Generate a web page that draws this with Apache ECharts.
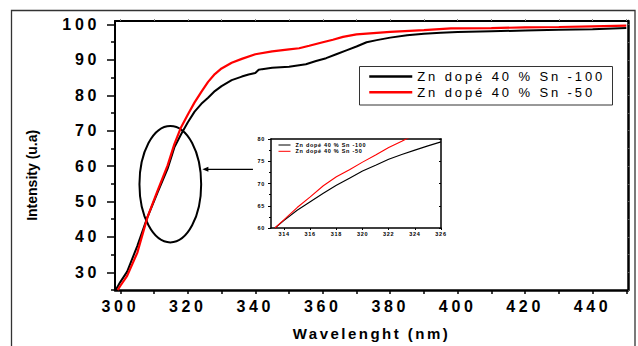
<!DOCTYPE html>
<html><head><meta charset="utf-8">
<script src="https://cdn.jsdelivr.net/npm/echarts@6/dist/echarts.min.js"></script>
<style>
html,body{margin:0;padding:0;background:#fff}
#c{width:638px;height:346px}
</style></head><body><div id="c"></div>
<script>
// ---- data ----
const nameBlack = 'Zn dopé 40 % Sn -100';
const nameRed = 'Zn dopé 40 % Sn -50';
const xBlack = [298.6,300,302,305,308,311,314,316,318,320,322,324,326,328,330,333,336,338,340,341,342,345,350,355,358,361,364,367,370,373,376,380,385,390,395,400,410,420,430,440,450];
const yBlack = [25,27.3,30.2,37.4,45.5,52.5,59.3,65.3,69.0,72.4,75.4,77.6,79.3,81.2,82.6,84.3,85.3,85.9,86.3,87.2,87.4,87.8,88.1,88.8,89.7,90.5,91.6,92.7,93.8,95.0,95.6,96.3,97.0,97.4,97.7,97.9,98.1,98.3,98.5,98.7,99.0];
const xRed = [299.2,300,302,305,308,311,314,316,318,320,322,324,326,328,330,333,336,340,345,350,353,356,360,363,366,370,375,380,390,398,410,420,430,440,450];
const yRed = [25,26.2,29.0,35.5,45.5,53.0,60.2,66.2,71.0,74.6,78.0,81.0,83.8,86.0,87.6,89.2,90.3,91.6,92.4,93.0,93.3,94.0,95.0,95.7,96.5,97.2,97.6,97.9,98.4,98.9,99.0,99.2,99.3,99.5,99.7];
const inX = [313.3,314,315,316,317,318,319,320,321,322,323,324,325,326];
const inBlack = [60,61.7,64.0,65.9,67.8,69.6,71.2,72.8,74.1,75.45,76.5,77.5,78.45,79.35];
const inRed = [60,61.9,64.6,67.0,69.5,71.5,73.1,74.8,76.4,78.1,79.5,81.0,82.3,83.5];
const xTickLabels = [300,320,340,360,380,400,420,440];
const xTicks = [300,310,320,330,340,350,360,370,380,390,400,410,420,430,440,450];
const yTickLabels = [30,40,50,60,70,80,90,100];
const yMinorTicks = [25,35,45,55,65,75,85,95];
const inXTicks = [314,316,318,320,322,324,326];
const yName = 'Intensity (u.a)';
const xName = 'Wavelenght (nm)';

const FONT = 'Liberation Sans';
const zip = (a, b) => a.map((v, i) => [v, b[i]]);

const chart = echarts.init(document.getElementById('c'), null, {renderer: 'svg'});
const noSplit = {show: false};
chart.setOption({
  animation: false,
  backgroundColor: '#fff',
  grid: [
    {left: 115, top: 21, width: 513, height: 269},
    {left: 271, top: 139, width: 170, height: 89}
  ],
  xAxis: [
    {gridIndex: 0, type: 'value', min: 298.4, max: 450.5, position: 'bottom',
     axisLine: {lineStyle: {color: '#000', width: 2.5}},
     axisTick: {customValues: xTicks, length: 4, lineStyle: {color: '#000', width: 1.5}},
     axisLabel: {customValues: xTickLabels, margin: 8, fontSize: 16, fontWeight: 'bold', color: '#000', fontFamily: FONT},
     splitLine: noSplit,
     name: xName, nameLocation: 'middle', nameGap: 36,
     nameTextStyle: {fontSize: 15, fontWeight: 'bold', color: '#000', fontFamily: FONT}},
    {gridIndex: 0, type: 'value', min: 298.4, max: 450.5, position: 'top',
     axisLine: {lineStyle: {color: '#000', width: 2}},
     axisTick: {customValues: xTicks, length: 2, lineStyle: {color: '#888', width: 1}},
     axisLabel: {show: false}, splitLine: noSplit},
    {gridIndex: 1, type: 'value', min: 313, max: 326, position: 'bottom',
     axisLine: {lineStyle: {color: '#000', width: 1.5}},
     axisTick: {customValues: inXTicks, length: 2, lineStyle: {color: '#000'}},
     axisLabel: {customValues: inXTicks, margin: 3, fontSize: 5.5, fontWeight: 'bold', color: '#000', fontFamily: FONT},
     splitLine: noSplit},
    {gridIndex: 1, type: 'value', min: 313, max: 326, position: 'top',
     axisLine: {lineStyle: {color: '#000', width: 1.5}},
     axisTick: {show: false}, axisLabel: {show: false}, splitLine: noSplit}
  ],
  yAxis: [
    {gridIndex: 0, type: 'value', min: 25, max: 101, position: 'left',
     axisLine: {show: true, lineStyle: {color: '#000', width: 2}},
     axisTick: {customValues: yTickLabels, length: 8, lineStyle: {color: '#000', width: 1.5}},
     axisLabel: {customValues: yTickLabels, margin: 15, fontSize: 16, fontWeight: 'bold', color: '#000', fontFamily: FONT},
     splitLine: noSplit},
    {gridIndex: 0, type: 'value', min: 25, max: 101, position: 'left',
     axisLine: {show: false},
     axisTick: {customValues: yMinorTicks, length: 4, lineStyle: {color: '#000', width: 1.5}},
     axisLabel: {show: false}, splitLine: noSplit},
    {gridIndex: 0, type: 'value', min: 25, max: 101, position: 'right',
     axisLine: {show: true, lineStyle: {color: '#000', width: 2.5}},
     axisTick: {customValues: yTickLabels.concat(yMinorTicks), length: 2, lineStyle: {color: '#555', width: 1}},
     axisLabel: {show: false}, splitLine: noSplit},
    {gridIndex: 1, type: 'value', min: 60, max: 80, interval: 5, position: 'left',
     axisLine: {show: true, lineStyle: {color: '#000', width: 1.5}},
     axisTick: {length: 3, lineStyle: {color: '#000'}},
     minorTick: {show: true, splitNumber: 2, length: 2, lineStyle: {color: '#000'}},
     axisLabel: {margin: 6, fontSize: 5.5, fontWeight: 'bold', color: '#000', fontFamily: FONT},
     splitLine: noSplit},
    {gridIndex: 1, type: 'value', min: 60, max: 80, interval: 5, position: 'right',
     axisLine: {show: true, lineStyle: {color: '#000', width: 1.5}},
     axisTick: {inside: true, length: 2, lineStyle: {color: '#000'}},
     axisLabel: {show: false}, splitLine: noSplit}
  ],
  legend: [
    {left: 368, top: 70, padding: 0, orient: 'vertical', data: [nameBlack, nameRed],
     itemWidth: 43, itemHeight: 14, itemGap: 2.7, selectedMode: false,
     lineStyle: {width: 2.5}, itemStyle: {opacity: 0},
     textStyle: {fontSize: 13, color: '#000', fontFamily: FONT}},
    {left: 278, top: 142, padding: 0, orient: 'vertical', data: [nameBlack, nameRed],
     itemWidth: 12, itemHeight: 5.5, itemGap: 0.3, selectedMode: false,
     lineStyle: {width: 1}, itemStyle: {opacity: 0},
     textStyle: {fontSize: 5.5, fontWeight: 'bold', color: '#000', fontFamily: FONT}}
  ],
  series: [
    {name: nameBlack, type: 'line', xAxisIndex: 0, yAxisIndex: 0, data: zip(xBlack, yBlack),
     symbol: 'none', color: '#000', lineStyle: {width: 2, color: '#000'}, clip: true},
    {name: nameRed, type: 'line', xAxisIndex: 0, yAxisIndex: 0, data: zip(xRed, yRed),
     symbol: 'none', color: '#ff0000', lineStyle: {width: 2.2, color: '#ff0000'}, clip: true},
    {name: nameBlack, type: 'line', xAxisIndex: 2, yAxisIndex: 3, data: zip(inX, inBlack),
     symbol: 'none', color: '#000', lineStyle: {width: 1.1, color: '#000'}, clip: true},
    {name: nameRed, type: 'line', xAxisIndex: 2, yAxisIndex: 3, data: zip(inX, inRed),
     symbol: 'none', color: '#ff0000', lineStyle: {width: 1.1, color: '#ff0000'}, clip: true}
  ]
});

// annotations placed through the main grid's scales
const P = (x, y) => chart.convertToPixel({gridIndex: 0}, [x, y]);
const c = P(314.8, 54.9), e1 = P(324.0, 71.3), e2 = P(305.7, 38.4);
const a1 = P(324.3, 59.1), a2 = P(339.3, 59.1);
const yn = P(298.4, 57.4);
chart.setOption({
  graphic: [
    {type: 'rect', shape: {x: 11.5, y: 10.5, width: 623.5, height: 345}, style: {fill: 'none', stroke: '#333', lineWidth: 1.3}, silent: true},
    {type: 'rect', shape: {x: 359.5, y: 66.5, width: 253, height: 38.5}, style: {fill: 'none', stroke: '#333', lineWidth: 1}, silent: true},
    {type: 'ellipse', shape: {cx: c[0], cy: c[1], rx: (e1[0] - e2[0]) / 2, ry: (e2[1] - e1[1]) / 2}, style: {fill: 'none', stroke: '#000', lineWidth: 2}, silent: true},
    {type: 'line', shape: {x1: a1[0] + 4, y1: a1[1], x2: a2[0], y2: a2[1]}, style: {stroke: '#000', lineWidth: 1.2}, silent: true},
    {type: 'polygon', shape: {points: [[a1[0], a1[1]], [a1[0] + 6, a1[1] - 2.5], [a1[0] + 6, a1[1] + 2.5]]}, style: {fill: '#000'}, silent: true},
    {type: 'text', x: 31.7, y: yn[1], rotation: Math.PI / 2,
     style: {text: yName, fontSize: 14, fontWeight: 'bold', fill: '#000', fontFamily: FONT, align: 'center', verticalAlign: 'middle'}, silent: true}
  ]
});

// letter spacing of the original typesetting: for each font size, a sample text and
// the width it spans in the original; spacing is derived from the measured natural width
const spacingTargets = {
  '16px': {text: '100', width: 34},
  '15px': {text: xName, width: 155},
  '13px': {text: nameBlack, width: 185},
  '5.5px': {text: nameBlack, width: 70}
};
const naturalLen = {};
function applySpacing() {
  const texts = Array.from(document.querySelectorAll('#c text'));
  texts.forEach(t => {
    const fs = getComputedStyle(t).fontSize;
    const tg = spacingTargets[fs];
    if (tg && naturalLen[fs] === undefined && t.textContent === tg.text) {
      t.style.letterSpacing = '0px';
      naturalLen[fs] = t.getComputedTextLength();
    }
  });
  texts.forEach(t => {
    const fs = getComputedStyle(t).fontSize;
    const tg = spacingTargets[fs];
    if (tg && naturalLen[fs] !== undefined) {
      const s = Math.max(0, (tg.width - naturalLen[fs]) / (tg.text.length - 1));
      t.style.letterSpacing = s.toFixed(2) + 'px';
    }
  });
}
chart.on('finished', applySpacing);
chart.on('rendered', applySpacing);
setTimeout(applySpacing, 0);
setTimeout(applySpacing, 50);
setTimeout(applySpacing, 200);
new MutationObserver(() => applySpacing()).observe(document.getElementById('c'), {childList: true, subtree: true});
</script>
</body></html>
